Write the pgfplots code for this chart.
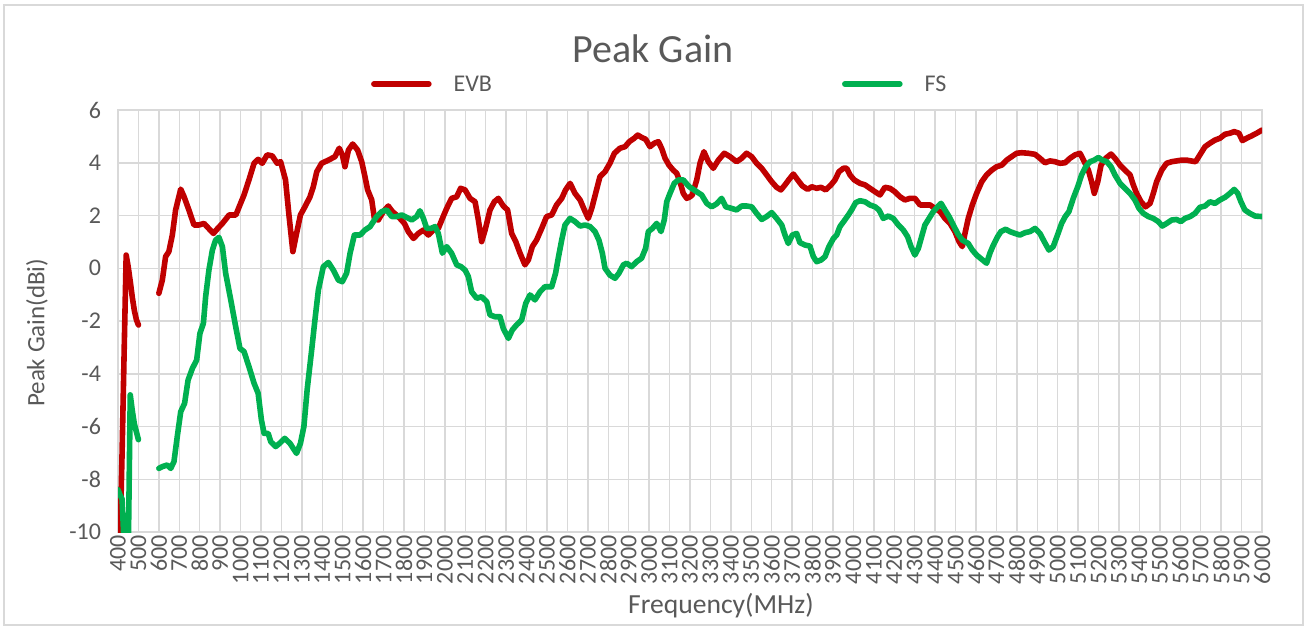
\documentclass[border=0pt]{standalone}
\usepackage{pgfplots}
\pgfplotsset{compat=1.18}
\usepackage{fontspec}
\setmainfont{Carlito}
\definecolor{evb}{HTML}{C00000}
\definecolor{fs}{HTML}{00B050}
\definecolor{gridc}{HTML}{D9D9D9}
\definecolor{txt}{HTML}{595959}
\begin{document}
\begin{tikzpicture}
\useasboundingbox (0,0) rectangle (653pt,314pt);
\draw[draw=gridc, line width=0.75pt] (2pt,1.5pt) rectangle (651.5pt,311.5pt);
\node[font=\fontsize{20}{20}\selectfont, text=txt, anchor=base] at (326.5pt,282.5pt) {Peak Gain};
\begin{axis}[
  at={(59pt,48pt)}, anchor=south west,
  scale only axis, width=572pt, height=211pt,
  xmin=400, xmax=6000, ymin=-10, ymax=6,
  xtick={400,500,...,6000},
  ytick={-10,-8,...,6},
  scaled x ticks=false,
  /pgf/number format/assume math mode=true,
  /pgf/number format/1000 sep={},
  major tick length=0pt,
  xmajorgrids, ymajorgrids,
  grid style={draw=gridc, line width=0.75pt},
  axis line style={draw=gridc, line width=0.75pt},
  xticklabel style={rotate=90, anchor=east, font=\fontsize{12}{12}\selectfont, text=txt, inner sep=1.5pt},
  yticklabel style={font=\fontsize{12}{12}\selectfont, text=txt, xshift=-5pt},
  xlabel={Frequency(MHz)}, ylabel={Peak Gain(dBi)},
  xlabel style={at={(axis description cs:0.527,-0.175)}, anchor=center, font=\fontsize{13.8}{13.8}\selectfont, text=txt},
  ylabel style={at={(axis description cs:-0.0708,0.472)}, anchor=center, font=\fontsize{12.5}{12.5}\selectfont, text=txt},
  unbounded coords=jump,
  legend columns=2,
  legend style={at={(axis description cs:0.2212,1.0616)}, anchor=west, draw=none, fill=none,
    inner sep=0pt, outer sep=0pt, nodes={inner sep=0pt, text depth=0pt},
    font=\fontsize{12}{12}\selectfont, text=txt,
    /tikz/every odd column/.append style={column sep=11pt},
    /tikz/every even column/.append style={column sep=175pt}},
  legend image code/.code={\draw[#1, line cap=round] (0pt,0pt) -- (27.5pt,0pt);},
  every axis plot/.append style={line width=2.8pt, line join=round, line cap=round},
]
\addplot[evb] coordinates {
(400,-8.9) (410,-10.3) (420,-7.0) (430,-3.2) (440,0.5) (450,0.05) (460,-0.5) (470,-1.1) (480,-1.6) (490,-1.95) (500,-2.15)
(550,nan)
(600,-0.95) (617,-0.45) (633,0.44) (649,0.63) (666,1.26) (682,2.21) (707,3.0) (723,2.72) (747,2.21) (772,1.64) (796,1.64) (821,1.7) (845,1.5) (867,1.32) (887,1.5) (911,1.7) (944,2.02) (977,2.02) (1000,2.46) (1017,2.78) (1041,3.35) (1066,3.98) (1086,4.13) (1106,3.98) (1130,4.3) (1155,4.26) (1179,3.98) (1196,4.04) (1220,3.35) (1236,2.08) (1256,0.63) (1274,1.32) (1293,2.02)
(1315,2.33) (1340,2.71) (1356,3.09) (1373,3.66) (1397,3.98) (1430,4.1) (1462,4.23) (1483,4.55) (1498,4.3) (1511,3.85) (1528,4.48) (1549,4.71) (1573,4.48) (1593,4.04) (1609,3.47) (1622,2.97) (1642,2.59) (1655,1.89) (1674,1.83) (1699,2.15) (1723,2.36) (1743,2.15) (1772,1.96) (1802,1.7) (1821,1.39) (1846,1.13) (1870,1.32) (1895,1.45) (1919,1.26) (1944,1.45) (1968,1.51) (1988,1.89) (2009,2.27) (2033,2.65) (2058,2.71) (2077,3.03) (2099,2.97) (2123,2.65) (2148,2.52) (2164,1.83) (2180,1.01) (2197,1.45) (2221,2.21) (2242,2.52)
(2262,2.65) (2286,2.36) (2307,2.21) (2327,1.32) (2347,1.01) (2368,0.57) (2392,0.13) (2409,0.32) (2428,0.82) (2449,1.07) (2474,1.51) (2498,1.96) (2523,2.02) (2547,2.4) (2572,2.65) (2591,2.97) (2613,3.22) (2637,2.84) (2662,2.59) (2683,2.21) (2702,1.89) (2719,2.27) (2738,2.84) (2759,3.47) (2784,3.66) (2808,3.98) (2830,4.36) (2857,4.55) (2882,4.61) (2903,4.8) (2927,4.93) (2944,5.05) (2963,4.96) (2983,4.89) (3004,4.61) (3025,4.74) (3045,4.8) (3061,4.55) (3078,4.17) (3097,3.91) (3118,3.72) (3135,3.6) (3151,3.28) (3167,2.84) (3184,2.65) (3200,2.71)
(3211,2.78) (3233,3.35) (3249,3.98) (3268,4.42) (3290,4.04) (3314,3.79) (3339,4.1) (3368,4.36) (3396,4.23) (3428,4.04) (3453,4.17) (3477,4.36) (3502,4.23) (3526,3.98) (3551,3.79) (3575,3.54) (3600,3.28) (3624,3.07) (3645,2.97) (3665,3.16) (3685,3.37) (3706,3.57) (3727,3.35) (3750,3.12) (3776,2.99) (3796,3.09) (3820,3.03) (3841,3.07) (3864,2.97) (3890,3.16) (3910,3.35) (3929,3.66) (3951,3.79) (3967,3.79) (3983,3.54) (4004,3.35) (4032,3.22) (4057,3.16) (4081,3.03) (4106,2.9)
(4130,2.78) (4154,3.07) (4179,3.03) (4203,2.9) (4228,2.71) (4252,2.59) (4277,2.65) (4301,2.65) (4326,2.4) (4350,2.4) (4375,2.4) (4399,2.27) (4424,2.15) (4448,1.89) (4473,1.7) (4497,1.39) (4517,1.01) (4533,0.82) (4546,1.32) (4562,1.89) (4582,2.4) (4603,2.84) (4628,3.28) (4652,3.54) (4677,3.72) (4701,3.85) (4726,3.91) (4750,4.1) (4774,4.23) (4799,4.36) (4823,4.38) (4856,4.36) (4889,4.32) (4913,4.17) (4938,4.0) (4962,4.07) (4987,4.04) (5011,3.98) (5036,4.0)
(5060,4.17) (5085,4.3) (5109,4.36) (5130,4.04) (5150,3.72) (5166,3.28) (5179,2.84) (5196,3.28) (5212,3.91) (5235,4.17) (5261,4.33) (5280,4.17) (5305,3.91) (5329,3.72) (5354,3.54) (5370,3.16) (5386,2.84) (5408,2.52) (5430,2.33) (5452,2.46) (5468,2.84) (5484,3.28) (5509,3.72) (5533,3.98) (5558,4.04) (5582,4.07) (5607,4.1) (5631,4.1) (5652,4.07) (5675,4.04) (5696,4.3) (5721,4.61) (5745,4.74) (5770,4.86) (5794,4.93) (5819,5.08) (5843,5.12) (5864,5.18) (5887,5.12) (5904,4.84) (5925,4.93) (5949,5.02) (5974,5.12) (6000,5.24)
};
\addlegendentry{EVB}
\addplot[fs] coordinates {
(400,-8.4) (410,-8.6) (420,-8.75) (430,-10.5) (440,-11) (450,-11) (460,-4.8) (470,-5.4) (480,-5.9) (490,-6.2) (500,-6.5)
(550,nan)
(600,-7.59) (617,-7.52) (641,-7.46) (658,-7.59) (674,-7.33) (690,-6.39) (707,-5.44) (726,-5.12) (743,-4.24) (764,-3.8) (785,-3.48) (801,-2.47) (818,-2.09) (829,-1.08) (845,-0.07) (862,0.69) (878,1.07) (894,1.17) (911,0.82) (927,-0.19) (952,-1.2) (976,-2.21) (997,-3.04) (1017,-3.16) (1041,-3.73) (1066,-4.36) (1086,-4.74) (1102,-5.75) (1115,-6.26) (1135,-6.26) (1148,-6.58) (1172,-6.76) (1191,-6.64) (1216,-6.45) (1242,-6.64) (1274,-7.02) (1293,-6.64) (1310,-6.0) (1326,-4.6)
(1348,-3.1) (1364,-1.96) (1381,-0.82) (1405,0.06) (1430,0.22) (1454,-0.07) (1479,-0.45) (1498,-0.51) (1519,-0.19) (1536,0.57) (1557,1.26) (1585,1.26) (1609,1.45) (1634,1.58) (1650,1.77) (1666,1.96) (1691,2.15) (1715,2.21) (1740,1.96) (1764,1.96) (1789,2.02) (1813,1.93) (1838,1.83) (1862,1.96) (1878,2.18) (1895,1.89) (1911,1.51) (1932,1.51) (1952,1.58) (1968,1.32) (1988,0.57) (2009,0.82) (2033,0.57) (2058,0.13) (2079,0.06) (2099,-0.07) (2115,-0.32) (2131,-0.89) (2156,-1.14) (2180,-1.08) (2205,-1.27) (2221,-1.77) (2246,-1.84)
(2270,-1.84) (2286,-2.28) (2311,-2.66) (2330,-2.34) (2351,-2.15) (2376,-1.96) (2396,-1.33) (2417,-1.01) (2441,-1.2) (2466,-0.89) (2490,-0.7) (2523,-0.7) (2542,-0.19) (2555,0.38) (2572,1.07) (2588,1.64) (2613,1.89) (2637,1.77) (2662,1.6) (2686,1.64) (2711,1.58) (2735,1.39) (2754,1.07) (2771,0.57) (2784,0) (2808,-0.26) (2833,-0.38) (2852,-0.19) (2874,0.13) (2890,0.19) (2914,0.06) (2939,0.25) (2963,0.38) (2983,0.76) (2996,1.39) (3016,1.51) (3037,1.7) (3058,1.39) (3074,1.83) (3086,2.52) (3102,2.84) (3123,3.22) (3143,3.35) (3167,3.35) (3188,3.16)
(3200,3.07) (3233,2.9) (3257,2.78) (3282,2.46) (3306,2.33) (3330,2.44) (3355,2.65) (3375,2.33) (3404,2.27) (3428,2.21) (3453,2.36) (3477,2.36) (3502,2.33) (3526,2.08) (3551,1.85) (3575,1.96) (3600,2.11) (3624,1.89) (3649,1.64) (3665,1.26) (3681,0.94) (3701,1.26) (3722,1.32) (3738,0.97) (3763,0.88) (3787,0.84) (3804,0.44) (3820,0.25) (3841,0.31) (3861,0.44) (3880,0.82) (3902,1.13) (3918,1.26) (3934,1.58) (3955,1.8) (3975,2.02) (3991,2.21) (4011,2.49) (4032,2.56) (4057,2.52) (4081,2.4) (4106,2.33)
(4125,2.21) (4146,1.89) (4171,1.98) (4195,1.89) (4220,1.64) (4244,1.45) (4265,1.2) (4282,0.82) (4301,0.5) (4318,0.76) (4334,1.2) (4350,1.64) (4370,1.89) (4391,2.15) (4412,2.33) (4429,2.46) (4448,2.21) (4468,1.96) (4489,1.64) (4510,1.32) (4533,1.07) (4562,0.94) (4582,0.69) (4603,0.5) (4628,0.34) (4652,0.19) (4668,0.57) (4685,0.88) (4706,1.2) (4722,1.39) (4745,1.48) (4766,1.39) (4791,1.32) (4815,1.26) (4840,1.35) (4864,1.39) (4889,1.51) (4913,1.32) (4934,1.01) (4957,0.69) (4978,0.82) (4999,1.26) (5019,1.7) (5036,1.95)
(5055,2.15) (5076,2.65) (5098,3.09) (5117,3.54) (5137,3.85) (5158,4.04) (5179,4.1) (5199,4.2) (5218,4.1) (5240,4.04) (5261,3.85) (5280,3.54) (5305,3.22) (5329,3.03) (5354,2.84) (5378,2.59) (5398,2.27) (5419,2.08) (5444,1.96) (5468,1.89) (5492,1.77) (5512,1.6) (5533,1.7) (5558,1.83) (5582,1.85) (5603,1.77) (5623,1.89) (5648,1.96) (5672,2.08) (5696,2.31) (5721,2.36) (5745,2.52) (5770,2.46) (5794,2.59) (5819,2.69) (5843,2.84) (5864,2.99) (5881,2.84) (5897,2.52) (5916,2.21) (5941,2.08) (5966,1.98) (6000,1.96)
};
\addlegendentry{FS}
\end{axis}
\end{tikzpicture}
\end{document}
